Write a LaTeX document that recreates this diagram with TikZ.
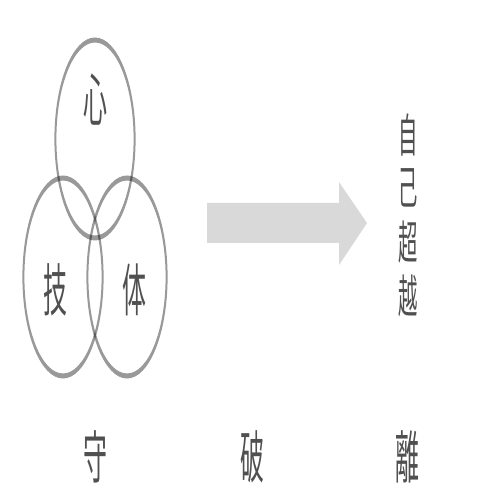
\documentclass[tikz,border=0pt]{standalone}
\usepackage{graphicx}
\usepackage{fontspec}
\newfontfamily\cjk{Noto Sans CJK JP}
\definecolor{inkgray}{HTML}{505050}
\definecolor{arrowgray}{HTML}{D9D9D9}
\newcommand\narrow[1]{\scalebox{0.42}[1]{#1}}
\begin{document}
\begin{tikzpicture}[x=1pt,y=1pt,
    ring/.style={draw=black, draw opacity=0.4, line width=5pt},
    glyph/.style={inner sep=0pt, text=inkgray, font=\cjk\fontsize{57}{57}\selectfont},
    smallglyph/.style={glyph, font=\cjk\fontsize{46}{46}\selectfont}]
    \useasboundingbox (0,0) rectangle (503,503);
    % three rings, squeezed sideways
    \begin{scope}[transform canvas={xscale=0.4}]
        \draw[ring] (237.5,364) circle (99);
        \draw[ring] (157.5,226) circle (99);
        \draw[ring] (317.5,226) circle (99);
    \end{scope}
    \node[glyph] (shin) at (95,403) {\narrow{心}};
    \node[glyph] (gi) at (55,213) {\narrow{技}};
    \node[glyph] (tai) at (134,213) {\narrow{体}};
    % big arrow
    \fill[arrowgray] (207,300) -- (339,300) -- (339,321) -- (367,280)
        -- (339,238) -- (339,260) -- (207,260) -- cycle;
    \node[smallglyph] (ji) at (408,368) {\narrow{自}};
    \node[smallglyph] (ko) at (408,315) {\narrow{己}};
    \node[smallglyph] (cho) at (408,261) {\narrow{超}};
    \node[smallglyph] (etsu) at (408,207) {\narrow{越}};
    % bottom row
    \node[glyph] (shu) at (95,46) {\narrow{守}};
    \node[glyph] (ha) at (252,46) {\narrow{破}};
    \node[glyph] (ri) at (407,46) {\narrow{離}};
\end{tikzpicture}
\end{document}
